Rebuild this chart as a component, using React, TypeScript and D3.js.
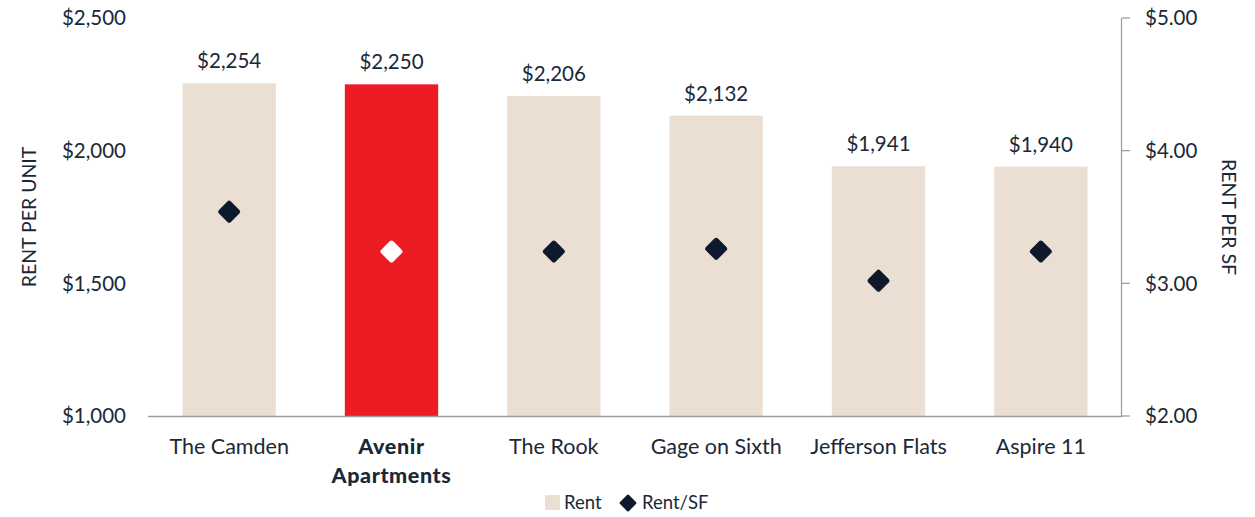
import React from "react";
import * as d3 from "d3";

const categories = ["The Camden", "Avenir Apartments", "The Rook", "Gage on Sixth", "Jefferson Flats", "Aspire 11"];
const rentValues = [2254, 2250, 2206, 2132, 1941, 1940];
const rentPerSF = [3.54, 3.24, 3.24, 3.26, 3.02, 3.24];
const highlightIndex = 1;
const leftTicks = [1000, 1500, 2000, 2500];
const rightTicks = [2, 3, 4, 5];

const W = 1255;
const H = 517;
const FONT = "Lato, 'Noto Sans', sans-serif";
const TEXT = "#1b2838";
const BEIGE = "#ebdfd4";
const RED = "#ed1c24";
const DARK = "#0e1a2b";

function diamondPath(cx: number, cy: number, r: number, rc: number) {
  const pts = [
    [cx, cy - r],
    [cx + r, cy],
    [cx, cy + r],
    [cx - r, cy],
  ];
  let d = "";
  for (let i = 0; i < 4; i++) {
    const p = pts[i];
    const prev = pts[(i + 3) % 4];
    const next = pts[(i + 1) % 4];
    const len = Math.hypot(p[0] - prev[0], p[1] - prev[1]);
    const a = [p[0] + ((prev[0] - p[0]) * rc) / len, p[1] + ((prev[1] - p[1]) * rc) / len];
    const b = [p[0] + ((next[0] - p[0]) * rc) / len, p[1] + ((next[1] - p[1]) * rc) / len];
    d += (i === 0 ? "M" : "L") + a[0] + "," + a[1] + "Q" + p[0] + "," + p[1] + " " + b[0] + "," + b[1];
  }
  return d + "Z";
}

export default function App() {
  const x0 = 148, x1 = 1122, yTop = 18, yBot = 416;
  const x = d3.scaleBand<string>().domain(categories).range([x0, x1]).paddingInner(0.425).paddingOuter(0.2125);
  const yL = d3.scaleLinear().domain([1000, 2500]).range([yBot, yTop]);
  const yR = d3.scaleLinear().domain([2, 5]).range([yBot, yTop]);
  const fmtL = (v: number) => "$" + d3.format(",")(v);
  const fmtR = (v: number) => "$" + d3.format(".2f")(v);

  return (
    <svg width={W} height={H} style={{ position: "absolute", left: 0, top: 0, fontFamily: FONT }}>
      {categories.map((c, i) => (
        <rect key={c} x={x(c)} y={yL(rentValues[i])} width={x.bandwidth()} height={yBot - yL(rentValues[i])}
          fill={i === highlightIndex ? RED : BEIGE} />
      ))}
      {categories.map((c, i) => (
        <text key={c + "v"} x={(x(c) as number) + x.bandwidth() / 2} y={yL(rentValues[i]) - 15}
          textAnchor="middle" fontSize={20.5} fill={TEXT}>{fmtL(rentValues[i])}</text>
      ))}
      {categories.map((c, i) => (
        <path key={c + "d"} d={diamondPath((x(c) as number) + x.bandwidth() / 2, yR(rentPerSF[i]), 12, 2.5)}
          fill={i === highlightIndex ? "#ffffff" : DARK} />
      ))}
      <line x1={x0} x2={x1} y1={yBot + 0.5} y2={yBot + 0.5} stroke="#9a9a9a" strokeWidth={1.5} />
      <line x1={x1 - 0.5} x2={x1 - 0.5} y1={yTop} y2={yBot + 1} stroke="#9a9a9a" strokeWidth={1.2} />
      {rightTicks.map((t) => (
        <g key={"r" + t}>
          <line x1={x1 - 0.5} x2={x1 + 8} y1={yR(t)} y2={yR(t)} stroke="#9a9a9a" strokeWidth={1.2} />
          <text x={1145} y={yR(t)} dy="0.35em" fontSize={20.5} fill={TEXT}>{fmtR(t)}</text>
        </g>
      ))}
      {leftTicks.map((t) => (
        <text key={"l" + t} x={126} y={yL(t)} dy="0.35em" textAnchor="end" fontSize={20.5} fill={TEXT}>{fmtL(t)}</text>
      ))}
      {categories.map((c, i) => {
        const cx = (x(c) as number) + x.bandwidth() / 2;
        if (i === highlightIndex) {
          const parts = c.split(" ");
          return (
            <text key={c + "x"} x={cx} textAnchor="middle" fontSize={21.5} fontWeight={900} letterSpacing={0.6} fill={TEXT}>
              <tspan x={cx} y={454}>{parts[0]}</tspan>
              <tspan x={cx} y={483}>{parts[1]}</tspan>
            </text>
          );
        }
        return <text key={c + "x"} x={cx} y={454} textAnchor="middle" fontSize={21.5} fill={TEXT}>{c}</text>;
      })}
      <text transform={`translate(36,${(yTop + yBot) / 2}) rotate(-90)`} textAnchor="middle" fontSize={19.5} fill={TEXT}>RENT PER UNIT</text>
      <text transform={`translate(1222,${(yTop + yBot) / 2}) rotate(90)`} textAnchor="middle" fontSize={19.5} fill={TEXT}>RENT PER SF</text>
      <rect x={545} y={495} width={15} height={15} fill={BEIGE} />
      <text x={564} y={503} dy="0.35em" fontSize={18.5} fill={TEXT}>Rent</text>
      <path d={diamondPath(628, 503, 9, 1.5)} fill={DARK} />
      <text x={642} y={503} dy="0.35em" fontSize={18.5} fill={TEXT}>Rent/SF</text>
    </svg>
  );
}
